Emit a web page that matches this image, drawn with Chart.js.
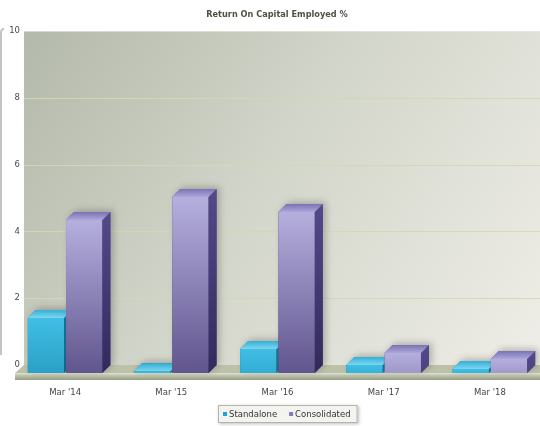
<!DOCTYPE html>
<html>
<head>
<meta charset="utf-8">
<script src="https://cdn.jsdelivr.net/npm/chart.js@4.4.1/dist/chart.umd.min.js"></script>
<style>
  html, body { margin: 0; padding: 0; background: #fff; overflow: hidden; }
  #wrap { width: 540px; height: 426px; overflow: hidden; }
  canvas { display: block; }
</style>
</head>
<body>
<div id="wrap"><canvas id="roce" width="543" height="426"></canvas></div>
<script>
const chartTitle = "Return On Capital Employed %";
const years = ["Mar '14", "Mar '15", "Mar '16", "Mar '17", "Mar '18"];
const standalone = [1.65, 0.05, 0.72, 0.24, 0.12];
const consolidated = [4.58, 5.27, 4.82, 0.6, 0.42];
const yTicks = [0, 2, 4, 6, 8, 10];
const seriesNames = ["Standalone", "Consolidated"];

const DX = 8, DY = 8;
const FONT = '"DejaVu Sans", Verdana, sans-serif';

const palettes = [
  { top: "#7ad7f1", topBack: "#35aed6", front: "#40bee4", frontDark: "#147fa5", side: "#117599", sideDark: "#0a5474", key: "#1ea7d4" },
  { top: "#aca6da", topBack: "#7a73b4", front: "#b5afde", frontDark: "#60558d", side: "#54498a", sideDark: "#322a5c", key: "#8279c2" }
];

function hexToRgb(h) {
  const n = parseInt(h.slice(1), 16);
  return [(n >> 16) & 255, (n >> 8) & 255, n & 255];
}
function mix(a, b, t) {
  const ca = hexToRgb(a), cb = hexToRgb(b);
  const c = ca.map((v, i) => Math.round(v + (cb[i] - v) * t));
  return `rgb(${c[0]},${c[1]},${c[2]})`;
}

function drawBar(ctx, el, pal) {
  const { x, y, base, width } = el.getProps(["x", "y", "base", "width"], true);
  const l = x - width / 2, r = x + width / 2;
  const t = Math.min(y, base), b = Math.max(y, base);
  const h = b - t;

  // soft shadow on the wall behind the block
  ctx.save();
  ctx.shadowColor = "rgba(70,70,60,0.35)";
  ctx.shadowBlur = 7;
  ctx.shadowOffsetX = 3;
  ctx.shadowOffsetY = -2;
  ctx.fillStyle = pal.side;
  ctx.beginPath();
  ctx.moveTo(l, b); ctx.lineTo(l, t); ctx.lineTo(l + DX, t - DY);
  ctx.lineTo(r + DX, t - DY); ctx.lineTo(r + DX, b - DY); ctx.lineTo(r, b);
  ctx.closePath(); ctx.fill();
  ctx.restore();

  // front face
  const fg = ctx.createLinearGradient(0, t, 0, b);
  fg.addColorStop(0, pal.front);
  fg.addColorStop(1, mix(pal.front, pal.frontDark, Math.min(1, h / 170 + 0.15)));
  ctx.fillStyle = fg;
  ctx.fillRect(l, t, r - l, h);

  // right side face
  const sg = ctx.createLinearGradient(0, t - DY, 0, b);
  sg.addColorStop(0, pal.side);
  sg.addColorStop(1, mix(pal.side, pal.sideDark, Math.min(1, h / 170 + 0.1)));
  ctx.fillStyle = sg;
  ctx.beginPath();
  ctx.moveTo(r, t); ctx.lineTo(r + DX, t - DY); ctx.lineTo(r + DX, b - DY); ctx.lineTo(r, b);
  ctx.closePath(); ctx.fill();

  // top face
  const tg = ctx.createLinearGradient(0, t, 0, t - DY);
  tg.addColorStop(0, pal.top);
  tg.addColorStop(1, pal.topBack);
  ctx.fillStyle = tg;
  ctx.beginPath();
  ctx.moveTo(l, t); ctx.lineTo(r, t); ctx.lineTo(r + DX, t - DY); ctx.lineTo(l + DX, t - DY);
  ctx.closePath(); ctx.fill();
}

const threeD = {
  id: "threeD",
  beforeDraw(chart) {
    const { ctx, chartArea: a, scales: { y } } = chart;
    const wallL = a.left + 12, wallR = chart.width;
    const wallT = y.getPixelForValue(10) - DY, wallB = y.getPixelForValue(0) - DY;

    ctx.save();
    // back wall
    const wg = ctx.createLinearGradient(wallL, wallT, wallR, wallB);
    wg.addColorStop(0, "#b3b9ab");
    wg.addColorStop(0.45, "#d2d5c9");
    wg.addColorStop(1, "#efeee8");
    ctx.fillStyle = wg;
    ctx.fillRect(wallL, wallT, wallR - wallL, wallB - wallT);
    ctx.fillStyle = "rgba(235,236,225,0.6)";
    ctx.fillRect(wallL, wallT, wallR - wallL, 1);

    // grid lines on the wall
    ctx.strokeStyle = "rgba(208,216,178,0.9)";
    ctx.lineWidth = 1;
    yTicks.slice(1, -1).forEach(v => {
      const py = Math.round(y.getPixelForValue(v) - DY) + 0.5;
      ctx.beginPath(); ctx.moveTo(wallL, py); ctx.lineTo(wallR, py); ctx.stroke();
    });

    // value labels
    ctx.fillStyle = "#4a4a4a";
    ctx.font = "8.5px " + FONT;
    ctx.textAlign = "right";
    ctx.textBaseline = "middle";
    yTicks.forEach(v => ctx.fillText(String(v), wallL - 4, y.getPixelForValue(v) - DY));

    // floor slab
    const fb = y.getPixelForValue(0);
    ctx.fillStyle = "#bcc1aa";
    ctx.beginPath();
    ctx.moveTo(wallL, fb - DY); ctx.lineTo(wallR, fb - DY); ctx.lineTo(wallR, fb); ctx.lineTo(wallL - 9, fb);
    ctx.closePath(); ctx.fill();
    const eg = ctx.createLinearGradient(0, fb, 0, fb + 7);
    eg.addColorStop(0, "#e2e5d6");
    eg.addColorStop(0.3, "#c4c8b3");
    eg.addColorStop(1, "#959b81");
    ctx.fillStyle = eg;
    ctx.fillRect(wallL - 9, fb, wallR - wallL + 9, 7);

    // edge of the neighbouring panel
    ctx.strokeStyle = "#c4c5c0";
    ctx.lineWidth = 2;
    ctx.beginPath();
    ctx.moveTo(4, 29); ctx.quadraticCurveTo(1, 29, 1, 33); ctx.lineTo(1, 355);
    ctx.stroke();

    // title
    ctx.fillStyle = "#4b5343";
    ctx.font = "bold 8.2px " + FONT;
    ctx.textAlign = "center";
    ctx.fillText(chartTitle, 277, 15);
    ctx.restore();
  },
  beforeDatasetsDraw(chart) {
    const ctx = chart.ctx;
    const metas = chart.data.datasets.map((_, i) => chart.getDatasetMeta(i));
    years.forEach((_, i) => {
      metas.forEach((m, d) => drawBar(ctx, m.data[i], palettes[d]));
    });
    return false;
  },
  afterDraw(chart) {
    const ctx = chart.ctx;
    ctx.save();
    ctx.font = "8.5px " + FONT;
    const widths = seriesNames.map(n => ctx.measureText(n).width);
    const total = widths.reduce((s, w) => s + 6 + w, 0) + 12 * (seriesNames.length - 1) + 12;
    const bx = Math.round(287.5 - total / 2), by = 405, bh = 18;
    ctx.shadowColor = "rgba(0,0,0,0.25)";
    ctx.shadowBlur = 3;
    ctx.shadowOffsetX = 1;
    ctx.shadowOffsetY = 1;
    ctx.fillStyle = "#f3f3ef";
    ctx.fillRect(bx, by, total, bh);
    ctx.shadowColor = "transparent";
    ctx.strokeStyle = "#b3b5aa";
    ctx.lineWidth = 1;
    ctx.strokeRect(bx + 0.5, by + 0.5, total - 1, bh - 1);
    let cx = bx + 5;
    seriesNames.forEach((n, i) => {
      ctx.fillStyle = palettes[i].key;
      ctx.fillRect(cx, by + 7, 4, 4);
      ctx.fillStyle = "#333";
      ctx.textAlign = "left";
      ctx.textBaseline = "middle";
      ctx.fillText(n, cx + 6, by + 9.5);
      cx += 6 + widths[i] + 12;
    });
    ctx.restore();
  }
};

new Chart(document.getElementById("roce"), {
  type: "bar",
  data: {
    labels: years,
    datasets: [
      { label: seriesNames[0], data: standalone, backgroundColor: palettes[0].front },
      { label: seriesNames[1], data: consolidated, backgroundColor: palettes[1].front }
    ]
  },
  options: {
    responsive: false,
    animation: false,
    events: [],
    datasets: { bar: { categoryPercentage: 0.72, barPercentage: 0.95 } },
    layout: { padding: { top: 39, left: 12, right: 0, bottom: 0 } },
    plugins: { legend: { display: false }, title: { display: false }, tooltip: { enabled: false } },
    scales: {
      x: {
        grid: { display: false, drawTicks: false },
        border: { display: false },
        ticks: { color: "#444", font: { family: FONT, size: 8.5 }, padding: 15, maxRotation: 0 },
        afterFit: s => { s.height = 53; }
      },
      y: { display: false, min: 0, max: 10 }
    }
  },
  plugins: [threeD]
});
</script>
</body>
</html>
